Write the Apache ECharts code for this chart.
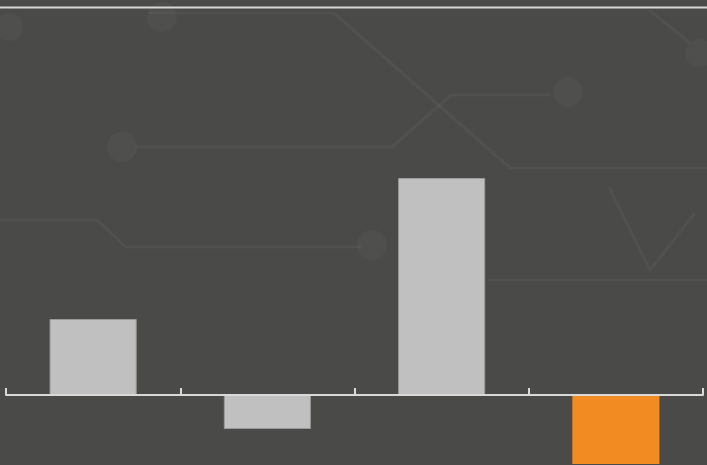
<!DOCTYPE html>
<html>
<head>
<meta charset="utf-8">
<title>bar</title>
<script src="https://cdn.jsdelivr.net/npm/echarts@6/dist/echarts.min.js"></script>
<style>
  html, body { margin: 0; padding: 0; background: #4a4a49; }
  #chart { width: 707px; height: 465px; }
</style>
</head>
<body>
<div id="chart"></div>
<script>
// data (no labels are shown on the chart)
const categories = ['1', '2', '3', '4'];
const values = [76, -34, 217, -69];
const highlight = [false, false, false, true];

const yMin = -70;
const yMax = 387;

// faint circuit-board decoration in the background
const trace = { stroke: 'rgba(255,255,255,0.035)', lineWidth: 3, fill: null };
const dot = { fill: 'rgba(255,255,255,0.03)' };
const deco = [
  [[0, 220], [97, 220], [126, 247], [361, 247]],
  [[135, 147], [392, 147], [451, 95], [550, 95]],
  [[149, 13], [334, 13], [510, 168], [707, 168]],
  [[649, 10], [690, 43]],
  [[609, 187], [650, 270], [695, 213]],
  [[487, 280], [707, 280]],
];
const dots = [[372, 245, 15], [122, 147, 15], [568, 92, 15], [162, 17, 15], [699, 53, 14], [9, 27, 14]];

const chart = echarts.init(document.getElementById('chart'));

const graphic = [];
deco.forEach((pts) => {
  graphic.push({ type: 'polyline', silent: true, z: -10, shape: { points: pts }, style: trace });
});
dots.forEach(([cx, cy, r]) => {
  graphic.push({ type: 'circle', silent: true, z: -10, shape: { cx, cy, r }, style: dot });
});
// top rule
graphic.push({
  type: 'line', silent: true,
  shape: { x1: 0, y1: 7.5, x2: 707, y2: 7.5 },
  style: { stroke: '#d6d6d6', lineWidth: 2 },
});

chart.setOption({
  backgroundColor: '#4a4a49',
  animation: false,
  graphic: graphic,
  grid: { left: 6, right: 4, top: 8, bottom: 0 },
  xAxis: {
    type: 'category',
    data: categories,
    boundaryGap: true,
    axisLine: { show: true, onZero: true, lineStyle: { color: '#d9d9d9', width: 2 } },
    axisTick: {
      show: true,
      inside: true,
      alignWithLabel: false,
      interval: 0,
      length: 7,
      lineStyle: { color: '#d9d9d9', width: 2 },
    },
    axisLabel: { show: false },
    z: 10,
  },
  yAxis: {
    type: 'value',
    min: yMin,
    max: yMax,
    show: false,
    splitLine: { show: false },
  },
  series: [
    {
      type: 'bar',
      barWidth: '50%',
      data: values.map((v, i) => ({
        value: v,
        itemStyle: highlight[i]
          ? { color: '#f28b21', borderWidth: 0 }
          : { color: '#c0c0c0', borderColor: '#9a9a9a', borderWidth: 1 },
      })),
    },
  ],
});
</script>
</body>
</html>
